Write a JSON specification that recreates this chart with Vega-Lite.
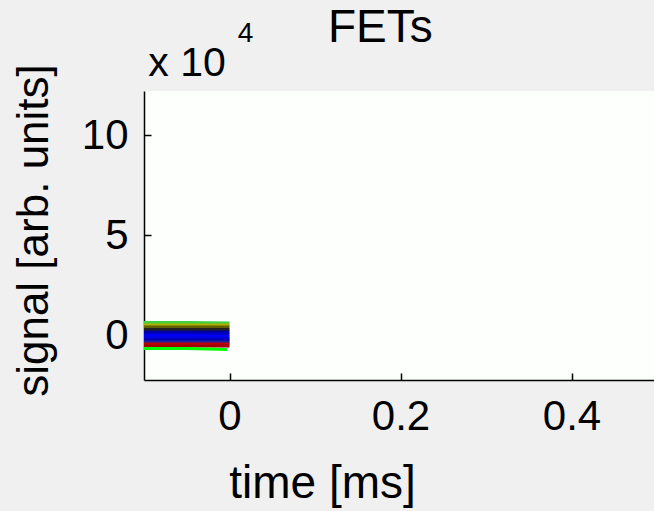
{
  "$schema": "https://vega.github.io/schema/vega-lite/v6.json",
  "width": 513,
  "height": 289,
  "autosize": "none",
  "padding": {"left": 144, "top": 91, "right": 0, "bottom": 131},
  "background": "#f0f0f0",
  "title": {"text": "FETs", "anchor": "start", "frame": "group", "dx": 184, "dy": 69, "offset": 0, "baseline": "alphabetic", "fontSize": 46, "fontWeight": "normal", "font": "Liberation Sans", "color": "#000000"},
  "config": {"view": {"stroke": null, "fill": "#fcfffc"}, "font": "Liberation Sans"},
  "data": {"values": [
    {"s": "s01", "t": -0.1, "v": 0.62}, {"s": "s01", "t": -0.05, "v": 0.62}, {"s": "s01", "t": 0.0, "v": 0.6},
    {"s": "s02", "t": -0.1, "v": 0.5}, {"s": "s02", "t": -0.05, "v": 0.5}, {"s": "s02", "t": 0.0, "v": 0.5},
    {"s": "s03", "t": -0.1, "v": 0.4}, {"s": "s03", "t": -0.05, "v": 0.4}, {"s": "s03", "t": 0.0, "v": 0.4},
    {"s": "s04", "t": -0.1, "v": 0.28}, {"s": "s04", "t": -0.05, "v": 0.28}, {"s": "s04", "t": 0.0, "v": 0.28},
    {"s": "s05", "t": -0.1, "v": 0.15}, {"s": "s05", "t": -0.05, "v": 0.15}, {"s": "s05", "t": 0.0, "v": 0.15},
    {"s": "s06", "t": -0.1, "v": 0.05}, {"s": "s06", "t": -0.05, "v": 0.05}, {"s": "s06", "t": 0.0, "v": 0.05},
    {"s": "s07", "t": -0.1, "v": -0.05}, {"s": "s07", "t": -0.05, "v": -0.05}, {"s": "s07", "t": 0.0, "v": -0.08},
    {"s": "s08", "t": -0.1, "v": -0.15}, {"s": "s08", "t": -0.05, "v": -0.15}, {"s": "s08", "t": 0.0, "v": -0.18},
    {"s": "s09", "t": -0.1, "v": -0.25}, {"s": "s09", "t": -0.05, "v": -0.25}, {"s": "s09", "t": 0.0, "v": -0.25},
    {"s": "s10", "t": -0.1, "v": -0.35}, {"s": "s10", "t": -0.05, "v": -0.35}, {"s": "s10", "t": 0.0, "v": -0.35},
    {"s": "s11", "t": -0.1, "v": -0.45}, {"s": "s11", "t": -0.05, "v": -0.45}, {"s": "s11", "t": 0.0, "v": -0.45},
    {"s": "s12", "t": -0.1, "v": -0.55}, {"s": "s12", "t": -0.05, "v": -0.55}, {"s": "s12", "t": 0.0, "v": -0.55},
    {"s": "s13", "t": -0.1, "v": -0.68}, {"s": "s13", "t": -0.05, "v": -0.68}, {"s": "s13", "t": -0.003, "v": -0.72}
  ]},
  "layer": [
    {
      "mark": {"type": "line", "strokeWidth": 3, "clip": true},
      "encoding": {
        "x": {"field": "t", "type": "quantitative",
          "scale": {"domain": [-0.1, 0.5], "nice": false, "zero": false},
          "axis": {"orient": "bottom", "values": [0, 0.2, 0.4], "format": "~g", "grid": false,
            "domainColor": "#000000", "domainWidth": 1.5, "tickColor": "#000000", "tickWidth": 1.5, "tickSize": -7,
            "labelFontSize": 42, "labelColor": "#000000", "labelPadding": 23, "labelFont": "Liberation Sans",
            "title": "time [ms]", "titleFontSize": 46, "titleFontWeight": "normal", "titleColor": "#000000", "titleFont": "Liberation Sans",
            "titleX": 178, "titleY": 117, "titleBaseline": "alphabetic", "titleAlign": "center", "titleAnchor": null}},
        "y": {"field": "v", "type": "quantitative",
          "scale": {"domain": [-2.25, 12.2], "nice": false, "zero": false},
          "axis": {"orient": "left", "values": [0, 5, 10], "grid": false,
            "domainColor": "#000000", "domainWidth": 1.5, "tickColor": "#000000", "tickWidth": 1.5, "tickSize": -7,
            "labelFontSize": 42, "labelColor": "#000000", "labelPadding": 23, "labelFont": "Liberation Sans",
            "title": "signal [arb. units]", "titleFontSize": 44, "titleFontWeight": "normal", "titleColor": "#000000", "titleFont": "Liberation Sans",
            "titleAngle": -90, "titleX": -97, "titleY": 139, "titleBaseline": "alphabetic", "titleAlign": "center"}},
        "color": {"field": "s", "type": "nominal", "legend": null,
          "scale": {"domain": ["s01","s02","s03","s04","s05","s06","s07","s08","s09","s10","s11","s12","s13"],
            "range": ["#40d040","#b0b000","#606000","#202020","#0000a0","#0000c8","#0000ff","#0000d8","#0000b0","#2020a0","#c00000","#a00000","#00ff00"]}}
      }
    },
    {
      "mark": {"type": "line", "opacity": 0},
      "encoding": {
        "x": {"field": "t", "type": "quantitative",
          "axis": {"orient": "top", "domain": false, "ticks": false, "labels": false, "grid": false,
            "title": "x 10", "titleFontSize": 41, "titleFontWeight": "normal", "titleColor": "#000000", "titleFont": "Liberation Sans",
            "titleX": 42.5, "titleY": -16, "titleBaseline": "alphabetic", "titleAlign": "center"}},
        "y": {"field": "v", "type": "quantitative",
          "axis": {"orient": "right", "domain": false, "ticks": false, "labels": false, "grid": false,
            "title": "4", "titleFontSize": 28, "titleFontWeight": "normal", "titleColor": "#000000", "titleFont": "Liberation Sans",
            "titleAngle": 0, "titleX": -412, "titleY": -50, "titleBaseline": "alphabetic", "titleAlign": "center"}},
        "detail": {"field": "s", "type": "nominal"}
      }
    }
  ],
  "resolve": {"axis": {"x": "independent", "y": "independent"}}
}
